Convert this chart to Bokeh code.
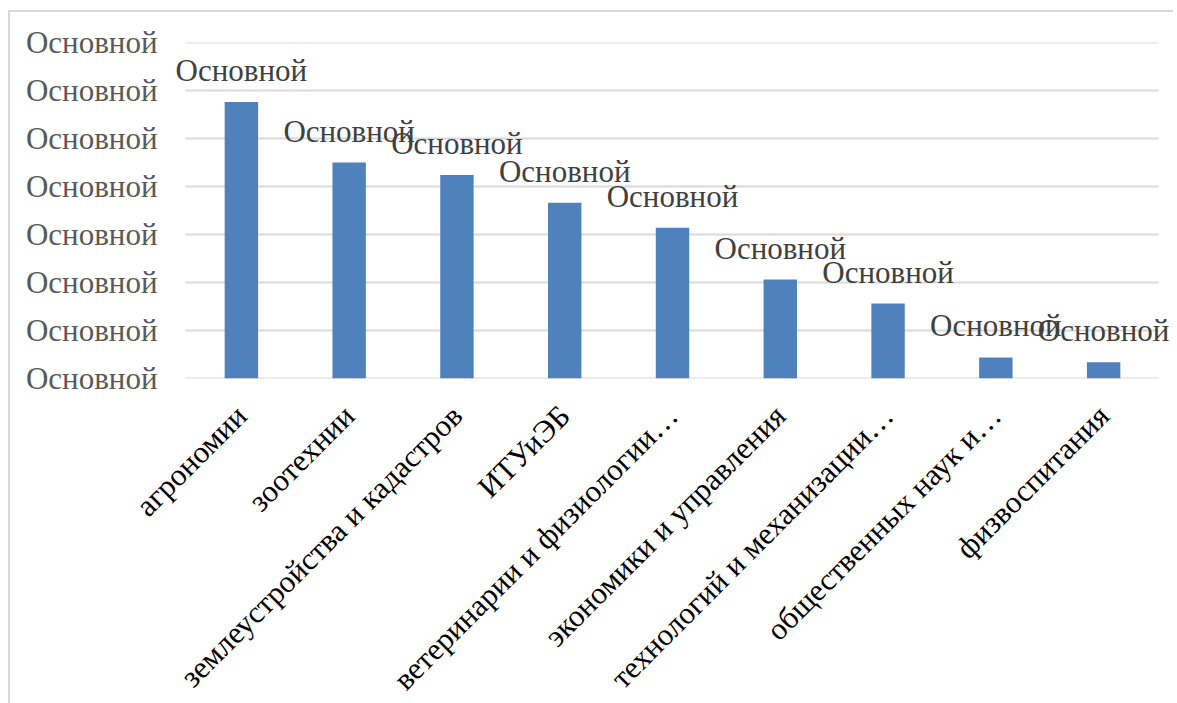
from bokeh.plotting import figure
from bokeh.models import ColumnDataSource, FixedTicker, Range1d, LabelSet, FactorRange
from bokeh.embed import file_html
from bokeh.resources import INLINE
import math

categories = ["агрономии", "зоотехнии", "землеустройства и кадастров", "ИТУиЭБ",
              "ветеринарии и физиологии…", "экономики и управления",
              "технологий и механизации…", "общественных наук и…", "физвоспитания"]
values = [28.8, 22.5, 21.2, 18.3, 15.7, 10.3, 7.8, 2.2, 1.7]
bar_labels = ["Основной"] * 9
y_ticks = [0, 5, 10, 15, 20, 25, 30, 35]
y_tick_labels = ["Основной"] * 8

FONT = "Liberation Serif"

src = ColumnDataSource(dict(cat=categories, val=values, lab=bar_labels))

x_range = FactorRange(factors=categories, range_padding=0.139,
                      range_padding_units="absolute")
p = figure(x_range=x_range, y_range=Range1d(0, 35), width=1165, height=700,
           output_backend="svg", toolbar_location=None,
           min_border_left=162, min_border_right=3, min_border_top=30,
           min_border_bottom=334)
p.styles = {"border-left": "2px solid #d9d9d9", "border-top": "2px solid #d9d9d9",
            "margin-left": "8px", "margin-top": "10px"}
p.outline_line_color = None

# horizontal gridlines spanning the category area only
grid_src = ColumnDataSource(dict(
    x0=[(categories[0], -0.52)] * len(y_ticks),
    x1=[(categories[-1], 0.51)] * len(y_ticks),
    y=y_ticks))
p.segment(x0="x0", y0="y", x1="x1", y1="y", source=grid_src,
          line_color="#d9d9d9", line_width=2)

p.vbar(x="cat", top="val", width=0.31, source=src, color="#4F81BD", line_color=None)

labels = LabelSet(x="cat", y="val", text="lab", source=src, text_align="center",
                  text_baseline="bottom", y_offset=14, text_font=FONT,
                  text_font_size="31px", text_color="#404040")
p.add_layout(labels)

p.yaxis.ticker = FixedTicker(ticks=y_ticks)
p.yaxis.major_label_overrides = {t: l for t, l in zip(y_ticks, y_tick_labels)}
p.yaxis.axis_line_color = None
p.yaxis.major_tick_line_color = None
p.yaxis.minor_tick_line_color = None
p.yaxis.major_label_standoff = 9
p.yaxis.major_label_text_font = FONT
p.yaxis.major_label_text_font_size = "31px"
p.yaxis.major_label_text_color = "#595959"

p.xaxis.axis_line_color = None
p.xaxis.major_tick_line_color = None
p.xaxis.major_label_orientation = math.pi / 4
p.xaxis.major_label_standoff = 26
p.xaxis.major_label_text_font = FONT
p.xaxis.major_label_text_font_size = "31px"
p.xaxis.major_label_text_color = "#000000"

p.xgrid.grid_line_color = None
p.ygrid.grid_line_color = None

open("out.html", "w").write(file_html(p, INLINE))
